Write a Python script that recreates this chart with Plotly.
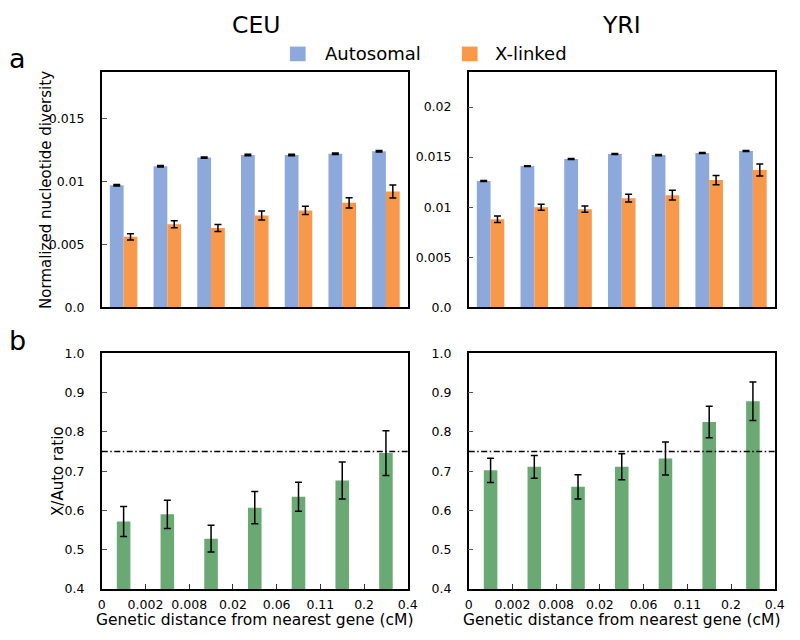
import plotly.graph_objects as go

# ---------------- data ----------------
bin_edges = ["0", "0.002", "0.008", "0.02", "0.06", "0.11", "0.2", "0.4"]

ceu_auto = [0.0097, 0.0112, 0.0119, 0.0121, 0.0121, 0.0122, 0.0124]
ceu_auto_err = [0.00006, 0.00006, 0.00005, 0.00006, 0.00006, 0.00006, 0.00006]
ceu_x = [0.0056, 0.0066, 0.0063, 0.0073, 0.0077, 0.0083, 0.0092]
ceu_x_err = [0.00025, 0.00027, 0.00027, 0.00036, 0.00032, 0.00041, 0.00052]

yri_auto = [0.0126, 0.0141, 0.0148, 0.0153, 0.0152, 0.0154, 0.0156]
yri_auto_err = [0.00005, 0.00004, 0.00005, 0.00005, 0.00006, 0.00005, 0.00005]
yri_x = [0.0088, 0.0100, 0.0098, 0.0109, 0.0112, 0.0127, 0.0137]
yri_x_err = [0.00032, 0.00030, 0.00032, 0.00039, 0.00049, 0.00047, 0.00060]

ceu_ratio = [0.572, 0.590, 0.528, 0.607, 0.635, 0.676, 0.746]
ceu_ratio_err = [0.038, 0.036, 0.034, 0.041, 0.037, 0.047, 0.057]
yri_ratio = [0.702, 0.711, 0.660, 0.711, 0.732, 0.825, 0.878]
yri_ratio_err = [0.031, 0.029, 0.031, 0.033, 0.042, 0.040, 0.049]

expected_ratio = 0.75

# ---------------- style ----------------
W, H = 800, 640
BLUE = "#8DA9DB"
ORANGE = "#F7984A"
GREEN = "#6AA874"
FONT = "DejaVu Sans"

n = len(ceu_auto)
xpos = [i + 0.5 for i in range(n)]
BW = 0.315
GW = 0.31


def px(x):
    return x / W


def py(y):
    return 1 - y / H


err_style = dict(type="data", color="black", thickness=1.5, width=3.5)

fig = go.Figure()


def bars(y, err, color, width, offset, xa, ya, name):
    fig.add_trace(go.Bar(
        x=xpos, y=y, width=width, offset=offset, name=name,
        marker=dict(color=color, line=dict(width=0)),
        error_y=dict(array=err, **err_style),
        xaxis=xa, yaxis=ya, showlegend=False,
    ))


bars(ceu_auto, ceu_auto_err, BLUE, BW, -BW, "x", "y", "Autosomal")
bars(ceu_x, ceu_x_err, ORANGE, BW, 0, "x", "y", "X-linked")
bars(yri_auto, yri_auto_err, BLUE, BW, -BW, "x2", "y2", "Autosomal")
bars(yri_x, yri_x_err, ORANGE, BW, 0, "x2", "y2", "X-linked")
bars(ceu_ratio, ceu_ratio_err, GREEN, GW, -GW / 2, "x3", "y3", "X/Auto")
bars(yri_ratio, yri_ratio_err, GREEN, GW, -GW / 2, "x4", "y4", "X/Auto")

dom_left = [px(99.5), px(411)]
dom_right = [px(473), px(784.5)]
dom_top = [py(306.5), py(65.5)]
dom_bot = [py(595), py(353.5)]

line_common = dict(showline=True, mirror=True, linecolor="black", linewidth=1.5,
                   showgrid=False, zeroline=False,
                   tickfont=dict(family=FONT, size=12.5, color="black"))

xtop = dict(range=[0, n], showticklabels=False, ticks="", **line_common)
xbot = dict(range=[0, n], tickmode="array", tickvals=list(range(n + 1)),
            ticktext=bin_edges, ticks="inside", ticklen=5, tickwidth=1,
            tickcolor="#333", ticklabelstandoff=3, **line_common)
ycommon = dict(ticks="inside", ticklen=5, tickwidth=1, tickcolor="#555",
               ticklabelstandoff=13, **line_common)

fig.update_layout(
    width=W, height=H,
    margin=dict(l=0, r=0, t=0, b=0),
    paper_bgcolor="white", plot_bgcolor="white",
    barmode="overlay",
    font=dict(family=FONT, color="black"),
    xaxis=dict(domain=dom_left, anchor="y", **xtop),
    xaxis2=dict(domain=dom_right, anchor="y2", **xtop),
    xaxis3=dict(domain=dom_left, anchor="y3", **xbot),
    xaxis4=dict(domain=dom_right, anchor="y4", **xbot),
    yaxis=dict(domain=dom_top, anchor="x", range=[0, 0.0187],
               tickvals=[0, 0.005, 0.01, 0.015],
               ticktext=["0.0", "0.005", "0.01", "0.015"], **ycommon),
    yaxis2=dict(domain=dom_top, anchor="x2", range=[0, 0.0235],
                tickvals=[0, 0.005, 0.01, 0.015, 0.02],
                ticktext=["0.0", "0.005", "0.01", "0.015", "0.02"], **ycommon),
    yaxis3=dict(domain=dom_bot, anchor="x3", range=[0.4, 1.0],
                tickvals=[0.4, 0.5, 0.6, 0.7, 0.8, 0.9, 1.0],
                tickformat=".1f", **ycommon),
    yaxis4=dict(domain=dom_bot, anchor="x4", range=[0.4, 1.0],
                tickvals=[0.4, 0.5, 0.6, 0.7, 0.8, 0.9, 1.0],
                tickformat=".1f", **ycommon),
)

# expected 0.75 ratio line
for xa, ya in (("x3", "y3"), ("x4", "y4")):
    fig.add_shape(type="line", xref=xa, yref=ya, x0=0, x1=n,
                  y0=expected_ratio, y1=expected_ratio,
                  line=dict(color="black", width=1.4, dash="6px,2.5px,1.5px,2.5px"))

# legend (manual)
fig.add_shape(type="rect", xref="paper", yref="paper",
              x0=px(291), x1=px(307), y0=py(54.5), y1=py(39.5),
              fillcolor=BLUE, line=dict(width=0))
fig.add_shape(type="rect", xref="paper", yref="paper",
              x0=px(466), x1=px(482), y0=py(54.5), y1=py(39.5),
              fillcolor=ORANGE, line=dict(width=0))

ann = []


def text(t, x, y, size, xanchor="center", angle=0):
    ann.append(dict(text=t, x=px(x), y=py(y), xref="paper", yref="paper",
                    xanchor=xanchor, yanchor="middle", showarrow=False,
                    textangle=angle, font=dict(family=FONT, size=size, color="black")))


text("Autosomal", 325, 47, 18, xanchor="left")
text("X-linked", 498, 47, 18, xanchor="left")
text("CEU", 256, 17, 23.5)
text("YRI", 629, 17, 23.5)
text("a", 14, 52, 27)
text("b", 14, 340, 27)
text("Normalized nucleotide diversity", 42, 186, 15, angle=-90)
text("X/Auto ratio", 55, 474, 15, angle=-90)
text("Genetic distance from nearest gene (cM)", 255, 627, 15.5)
text("Genetic distance from nearest gene (cM)", 629, 627, 15.5)

fig.update_layout(annotations=ann)

fig.write_html("out.html",
               config={"displayModeBar": False},
               post_script="document.body.style.margin='0';"
                           "document.body.style.overflow='hidden';")
